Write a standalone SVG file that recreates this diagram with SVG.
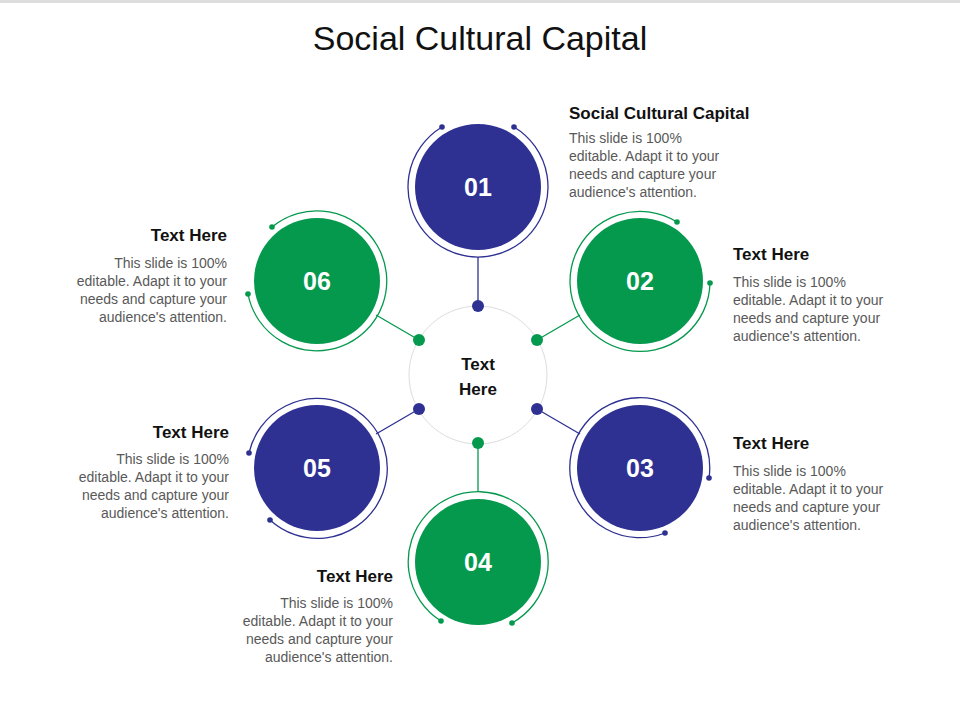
<svg xmlns="http://www.w3.org/2000/svg" width="960" height="720" viewBox="0 0 960 720">
<style>
.b{fill:#2E3192}.g{fill:#05994E}
.bs{stroke:#2E3192;fill:none;stroke-width:1.3}.gs{stroke:#05994E;fill:none;stroke-width:1.3}
.num{font-family:"Liberation Sans",Arial,sans-serif;font-weight:bold;font-size:25px;fill:#fff;text-anchor:middle}
.h{font-family:"Liberation Sans",Arial,sans-serif;font-weight:bold;font-size:17px;fill:#111}
.t{font-family:"Liberation Sans",Arial,sans-serif;font-size:14px;fill:#595959}
</style>
<rect width="960" height="720" fill="#fff"/>
<rect width="960" height="3" fill="#ddd"/>
<text x="480" y="50" text-anchor="middle" font-family="Liberation Sans,Arial,sans-serif" font-size="34" fill="#111">Social Cultural Capital</text>
<g id="connectors">
<line x1="478" y1="306" x2="478" y2="257" class="bs"/>
<line x1="537" y1="340" x2="580" y2="315" class="gs"/>
<line x1="537" y1="409" x2="580" y2="434" class="bs"/>
<line x1="478" y1="443" x2="478" y2="492" class="gs"/>
<line x1="419" y1="409" x2="376" y2="434" class="bs"/>
<line x1="419" y1="340" x2="376" y2="315" class="gs"/>
</g>
<g id="center">
<circle cx="478" cy="375" r="69" fill="none" stroke="#ddd" stroke-width="1"/>
<text x="478" y="370" text-anchor="middle" class="h" font-size="18">Text</text>
<text x="478" y="395" text-anchor="middle" class="h" font-size="18">Here</text>
<circle cx="478" cy="306" r="6" class="b"/><circle cx="537" cy="340" r="6" class="g"/>
<circle cx="537" cy="409" r="6" class="b"/><circle cx="478" cy="443" r="6" class="g"/>
<circle cx="419" cy="409" r="6" class="b"/><circle cx="419" cy="340" r="6" class="g"/>
</g>
<g id="n01"><circle cx="478" cy="187" r="63" class="b"/><path d="M514,127 A70 70 0 1 1 442,127" class="bs"/><circle cx="514" cy="127" r="2.8" class="b"/><circle cx="442" cy="127" r="2.8" class="b"/><text x="478" y="196" class="num">01</text></g>
<g id="n02"><circle cx="640" cy="281" r="63" class="g"/><path d="M710,283 A70 70 0 1 1 677,222" class="gs"/><circle cx="710" cy="283" r="2.8" class="g"/><circle cx="677" cy="222" r="2.8" class="g"/><text x="640" y="290" class="num">02</text></g>
<g id="n03"><circle cx="640" cy="468" r="63" class="b"/><path d="M665,533 A70 70 0 1 1 709,478" class="bs"/><circle cx="665" cy="533" r="2.8" class="b"/><circle cx="709" cy="478" r="2.8" class="b"/><text x="640" y="477" class="num">03</text></g>
<g id="n04"><circle cx="478" cy="562" r="63" class="g"/><path d="M441,621 A70 70 0 1 1 512,623" class="gs"/><circle cx="441" cy="621" r="2.8" class="g"/><circle cx="512" cy="623" r="2.8" class="g"/><text x="478" y="571" class="num">04</text></g>
<g id="n05"><circle cx="317" cy="468" r="63" class="b"/><path d="M249,453 A70 70 0 1 1 270,520" class="bs"/><circle cx="249" cy="453" r="2.8" class="b"/><circle cx="270" cy="520" r="2.8" class="b"/><text x="317" y="477" class="num">05</text></g>
<g id="n06"><circle cx="317" cy="281" r="63" class="g"/><path d="M272,227 A70 70 0 1 1 248,294" class="gs"/><circle cx="272" cy="227" r="2.8" class="g"/><circle cx="248" cy="294" r="2.8" class="g"/><text x="317" y="290" class="num">06</text></g>
<g id="txt1"><text x="569" y="119" class="h">Social Cultural Capital</text><text class="t"><tspan x="569" y="143">This slide is 100%</tspan><tspan x="569" y="161">editable. Adapt it to your</tspan><tspan x="569" y="179">needs and capture your</tspan><tspan x="569" y="197">audience's attention.</tspan></text></g>
<g id="txt2"><text x="733" y="260" class="h">Text Here</text><text class="t"><tspan x="733" y="287">This slide is 100%</tspan><tspan x="733" y="305">editable. Adapt it to your</tspan><tspan x="733" y="323">needs and capture your</tspan><tspan x="733" y="341">audience's attention.</tspan></text></g>
<g id="txt3"><text x="733" y="449" class="h">Text Here</text><text class="t"><tspan x="733" y="476">This slide is 100%</tspan><tspan x="733" y="494">editable. Adapt it to your</tspan><tspan x="733" y="512">needs and capture your</tspan><tspan x="733" y="530">audience's attention.</tspan></text></g>
<g id="txt4" text-anchor="end"><text x="393" y="582" class="h">Text Here</text><text class="t"><tspan x="393" y="608">This slide is 100%</tspan><tspan x="393" y="626">editable. Adapt it to your</tspan><tspan x="393" y="644">needs and capture your</tspan><tspan x="393" y="662">audience's attention.</tspan></text></g>
<g id="txt5" text-anchor="end"><text x="229" y="438" class="h">Text Here</text><text class="t"><tspan x="229" y="464">This slide is 100%</tspan><tspan x="229" y="482">editable. Adapt it to your</tspan><tspan x="229" y="500">needs and capture your</tspan><tspan x="229" y="518">audience's attention.</tspan></text></g>
<g id="txt6" text-anchor="end"><text x="227" y="241" class="h">Text Here</text><text class="t"><tspan x="227" y="268">This slide is 100%</tspan><tspan x="227" y="286">editable. Adapt it to your</tspan><tspan x="227" y="304">needs and capture your</tspan><tspan x="227" y="322">audience's attention.</tspan></text></g>
</svg>
